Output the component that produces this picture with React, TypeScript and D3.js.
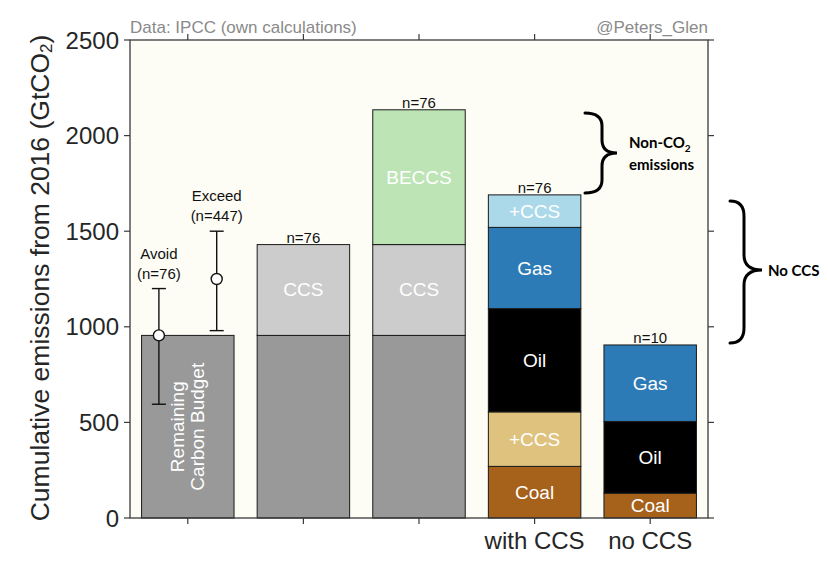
import React from "react";
import * as d3 from "d3";

const barPositions = [1, 2, 3, 4, 5];
const xTickLabels = ["", "", "", "with CCS", "no CCS"];
const nLabels = ["", "n=76", "n=76", "n=76", "n=10"];
const segmentKeys = [
  ["budget"],
  ["budget", "ccs"],
  ["budget", "ccs", "beccs"],
  ["coal", "coalCcs", "oil", "gas", "gasCcs"],
  ["coal", "oil", "gas"],
];
const segmentLabels = [
  [""],
  ["", "CCS"],
  ["", "CCS", "BECCS"],
  ["Coal", "+CCS", "Oil", "Gas", "+CCS"],
  ["Coal", "Oil", "Gas"],
];
const segmentValues = [
  [955],
  [955, 475],
  [955, 475, 705],
  [270, 285, 540, 425, 170],
  [130, 375, 400],
];
const budgetLabelLines = ["Remaining", "Carbon Budget"];

const errX = [0.75, 1.25];
const errMean = [955, 1250];
const errLow = [595, 980];
const errHigh = [1200, 1500];
const errLabels = [
  ["Avoid", "(n=76)"],
  ["Exceed", "(n=447)"],
];

const yDomain = [0, 2500];

const COLORS: Record<string, string> = {
  budget: "#999999",
  ccs: "#cccccc",
  beccs: "#bde4b5",
  coal: "#a6611a",
  coalCcs: "#dfc27d",
  oil: "#000000",
  gas: "#2c7bb6",
  gasCcs: "#abd9e9",
};

const FONT = "'Liberation Sans', Arial, Helvetica, sans-serif";
const BOLD_FONT = "Lato, 'Open Sans', sans-serif";

function bracePath(x0: number, xs: number, xt: number, yt: number, ym: number, yb: number, r: number) {
  return [
    `M${x0},${yt}`,
    `Q${xs},${yt} ${xs},${yt + r}`,
    `L${xs},${ym - r}`,
    `Q${xs},${ym} ${xt},${ym}`,
    `Q${xs},${ym} ${xs},${ym + r}`,
    `L${xs},${yb - r}`,
    `Q${xs},${yb} ${x0},${yb}`,
  ].join(" ");
}

export default function App() {
  const left = 130, right = 708, top = 40, bottom = 518;
  const x = d3.scaleLinear().domain([0.5, 5.5]).range([left, right]);
  const y = d3.scaleLinear().domain(yDomain).range([bottom, top]);
  const yTicks = y.ticks(5);
  const barW = x(1.4) - x(1);
  const axisColor = "#3a3a3a";
  const tickLen = 6;

  return (
    <svg width={828} height={569} style={{ position: "absolute", left: 0, top: 0, background: "#fff" }} fontFamily={FONT}>
      <rect x={left} y={top} width={right - left} height={bottom - top} fill="#fdfdf5" />

      {/* bars */}
      {barPositions.map((b, i) => {
        const ends = Array.from(d3.cumsum(segmentValues[i]));
        return (
          <g key={"bar" + i}>
            {segmentValues[i].map((v, j) => {
              const y0 = j === 0 ? 0 : ends[j - 1];
              const y1 = ends[j];
              const label = segmentLabels[i][j];
              return (
                <g key={j}>
                  <rect
                    x={x(b) - barW}
                    y={y(y1)}
                    width={barW * 2}
                    height={y(y0) - y(y1)}
                    fill={COLORS[segmentKeys[i][j]]}
                    stroke="#1a1a1a"
                    strokeWidth={1}
                  />
                  {label && (
                    <text x={x(b)} y={y((y0 + y1) / 2)} textAnchor="middle" dominantBaseline="central" fill="#fff" fontSize={19}>
                      {label}
                    </text>
                  )}
                </g>
              );
            })}
            {nLabels[i] && (
              <text x={x(b)} y={y(ends[ends.length - 1]) - 2} textAnchor="middle" fontSize={15} fill="#111">
                {nLabels[i]}
              </text>
            )}
          </g>
        );
      })}

      {/* rotated budget label */}
      {budgetLabelLines.map((t, k) => {
        const cx = x(1) + (k === 0 ? -10 : 10);
        const cy = y(segmentValues[0][0] / 2);
        return (
          <text key={t} x={cx} y={cy} transform={`rotate(-90 ${cx} ${cy})`} textAnchor="middle" dominantBaseline="central" fill="#fff" fontSize={19}>
            {t}
          </text>
        );
      })}

      {/* error bars */}
      {errX.map((ex, i) => {
        const cx = x(ex);
        const cap = 7;
        return (
          <g key={"err" + i} stroke="#111" strokeWidth={1.4}>
            <line x1={cx} x2={cx} y1={y(errLow[i])} y2={y(errHigh[i])} />
            <line x1={cx - cap} x2={cx + cap} y1={y(errLow[i])} y2={y(errLow[i])} />
            <line x1={cx - cap} x2={cx + cap} y1={y(errHigh[i])} y2={y(errHigh[i])} />
            <circle cx={cx} cy={y(errMean[i])} r={5.5} fill="#fff" />
            <text x={cx} y={y(errHigh[i]) - 30} textAnchor="middle" fontSize={15} fill="#111" stroke="none">
              {errLabels[i][0]}
            </text>
            <text x={cx} y={y(errHigh[i]) - 10} textAnchor="middle" fontSize={15} fill="#111" stroke="none">
              {errLabels[i][1]}
            </text>
          </g>
        );
      })}

      {/* axes box */}
      <rect x={left} y={top} width={right - left} height={bottom - top} fill="none" stroke={axisColor} strokeWidth={1.3} />
      {yTicks.map((t) => (
        <g key={"yt" + t}>
          <line x1={left - tickLen} x2={left} y1={y(t)} y2={y(t)} stroke={axisColor} strokeWidth={1.2} />
          <line x1={right} x2={right + tickLen} y1={y(t)} y2={y(t)} stroke={axisColor} strokeWidth={1.2} />
          <text x={left - 11} y={y(t)} textAnchor="end" dominantBaseline="central" fontSize={24} fill="#262626">
            {t}
          </text>
        </g>
      ))}
      {barPositions.map((b, i) => (
        <g key={"xt" + b}>
          <line x1={x(b)} x2={x(b)} y1={bottom} y2={bottom + tickLen} stroke={axisColor} strokeWidth={1.2} />
          <line x1={x(b)} x2={x(b)} y1={top - tickLen} y2={top} stroke={axisColor} strokeWidth={1.2} />
          {xTickLabels[i] && (
            <text x={x(b)} y={bottom + 31} textAnchor="middle" fontSize={24} fill="#262626">
              {xTickLabels[i]}
            </text>
          )}
        </g>
      ))}

      {/* y label */}
      <text x={40} y={278} transform="rotate(-90 40 278)" textAnchor="middle" dominantBaseline="central" fontSize={26.5} fill="#262626">
        Cumulative emissions from 2016 (GtCO
        <tspan fontSize={17} dy={6}>2</tspan>
        <tspan dy={-6}>)</tspan>
      </text>

      {/* header */}
      <text x={left} y={33} fontSize={17} fill="#8a8a8a">Data: IPCC (own calculations)</text>
      <text x={right} y={33} fontSize={17} fill="#8a8a8a" textAnchor="end">@Peters_Glen</text>

      {/* braces */}
      <path d={bracePath(585, 602, 617, 113, 153, 193, 13)} fill="none" stroke="#000" strokeWidth={3} strokeLinecap="round" />
      <text x={629} y={148} fontFamily={BOLD_FONT} fontWeight={700} fontSize={15} fill="#000">
        Non-CO<tspan fontSize={10} dy={4}>2</tspan>
      </text>
      <text x={629} y={170} fontFamily={BOLD_FONT} fontWeight={700} fontSize={15} fill="#000">emissions</text>

      <path d={bracePath(730, 744, 762, 201, 270, 343, 15)} fill="none" stroke="#000" strokeWidth={3} strokeLinecap="round" />
      <text x={768} y={270} dominantBaseline="central" fontFamily={BOLD_FONT} fontWeight={700} fontSize={15} fill="#000">No CCS</text>
    </svg>
  );
}
